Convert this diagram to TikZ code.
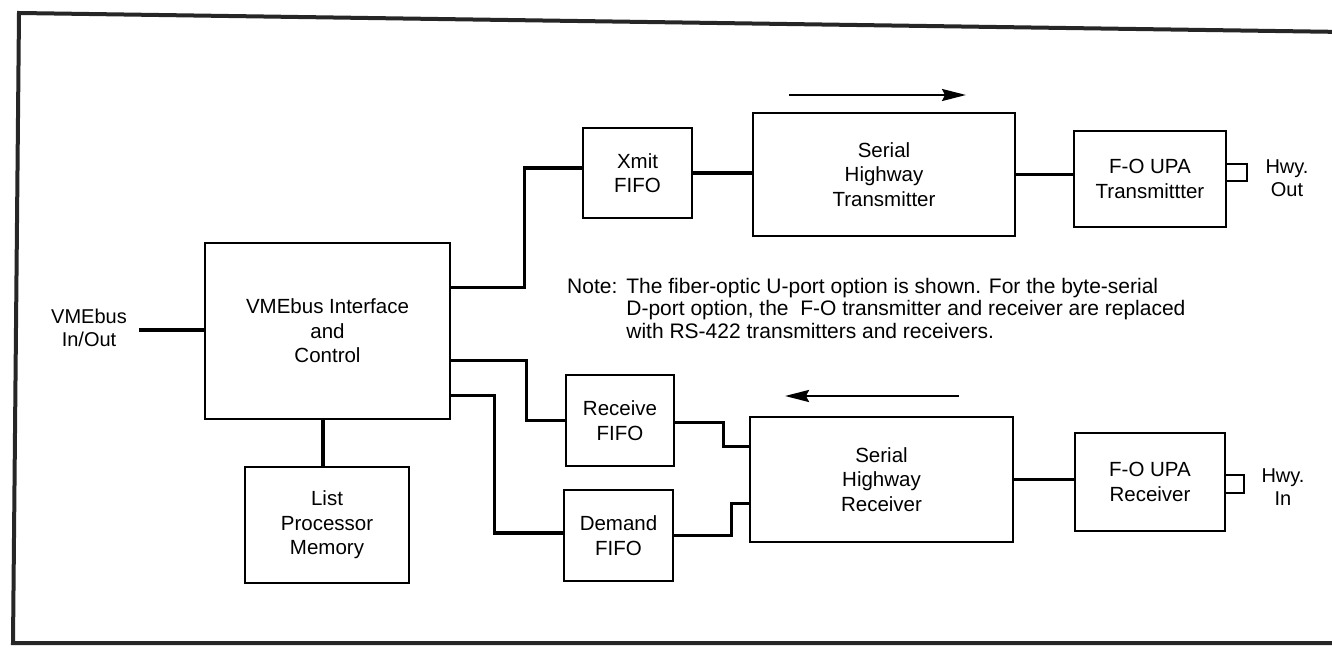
\documentclass[tikz,border=0pt]{standalone}
\usepackage{fontspec}
\setmainfont{Liberation Sans}
\usetikzlibrary{arrows.meta,calc}
\newcommand\bxfont{\fontsize{20.5}{24.5}\selectfont}
\newcommand\lbfont{\fontsize{20}{23}\selectfont}
\newcommand\ntfont{\fontsize{21}{22.5}\selectfont}
\begin{document}
\begin{tikzpicture}[x=1pt,y=-1pt,
  box/.style={draw,line width=2.8pt,inner sep=0pt,align=center,font=\bxfont},
  port/.style={draw,line width=2.6pt,inner sep=0pt},
  conn/.style={line width=3.6pt,line join=miter},
  flow/.style={line width=2.2pt,-{Stealth[length=24pt,width=12pt,inset=3pt]}},
  lbl/.style={align=center,font=\lbfont,inner sep=0pt},
  frame/.style={line width=4pt,black!85}]
\useasboundingbox (0,0) rectangle (1332,652);
% outer frame
\draw[frame] (1345,32) -- (19,13) -- (13,643) -- (1345,643);

% blocks
\node[box,minimum width=245pt,minimum height=176pt] (vme) at (327.5,331) {VMEbus Interface\\and\\Control};
\node[box,minimum width=164pt,minimum height=116pt] (list) at (327,525) {List\\Processor\\Memory};
\node[box,minimum width=109pt,minimum height=90pt] (xmit) at (637.5,173) {Xmit\\FIFO};
\node[box,minimum width=262pt,minimum height=123pt] (sht) at (884,174.5) {Serial\\Highway\\Transmitter};
\node[box,minimum width=152pt,minimum height=96pt] (fotx) at (1150,179) {F-O UPA\\Transmittter};
\node[box,minimum width=108pt,minimum height=91pt] (recv) at (620,420.5) {Receive\\FIFO};
\node[box,minimum width=109pt,minimum height=91pt] (dem) at (618.5,535.5) {Demand\\FIFO};
\node[box,minimum width=263pt,minimum height=125pt] (shr) at (881.5,479.5) {Serial\\Highway\\Receiver};
\node[box,minimum width=150pt,minimum height=98pt] (forx) at (1150,482) {F-O UPA\\Receiver};

% ports
\node[port,minimum width=21pt,minimum height=17pt] (txport) at (1236.5,172.5) {};
\node[port,minimum width=19pt,minimum height=18pt] (rxport) at (1234.5,484) {};

% labels
\node[lbl] (inout) at (89,327.5) {VMEbus\\In/Out};
\node[lbl] (hwyout) at (1287,178) {Hwy.\\Out};
\node[lbl] (hwyin) at (1283,487) {Hwy.\\In};

\node[anchor=base west,inner sep=0pt,font=\ntfont] (note) at (567,293)
  {\begin{tabular}[t]{@{}l@{\hspace{9pt}}l@{}}Note: & The fiber-optic U-port option is shown. For the byte-serial\\
   & D-port option, the\ \ F-O transmitter and receiver are replaced\\
   & with RS-422 transmitters and receivers.\end{tabular}};

% connectors
\draw[conn] ($(inout.east)+(12,2.5)$) -- ($(inout.east -| vme.west)+(0,2.5)$);
\draw[conn] ($(vme.north east)+(0,46)$) -- ++(73,0) |- ($(xmit.west)+(0,-5)$);
\draw[conn] (xmit.east) -- (xmit.east -| sht.west);
\draw[conn] (sht.east) -- (sht.east -| fotx.west);
\draw[conn] ($(vme.north east)+(0,119)$) -- ++(75,0) |- (recv.west);
\draw[conn] ($(recv.east)+(0,2)$) -- ++(48,0) |- ($(shr.north west)+(0,31)$);
\draw[conn] ($(vme.north east)+(0,154)$) -- ++(43,0) |- ($(dem.west)+(0,-2.5)$);
\draw[conn] (dem.east) -- ++(57,0) |- ($(shr.north west)+(0,88)$);
\draw[conn] ($(list.north)+(-4,0)$) -- ($(list.north |- vme.south)+(-4,0)$);
\draw[conn] (shr.east) -- (shr.east -| forx.west);

% direction arrows
\coordinate (txa) at (789,95);
\coordinate (txb) at (966,95);
\coordinate (rxa) at (959,396);
\coordinate (rxb) at (785,396);
\draw[flow] (txa) -- (txb);
\draw[flow] (rxa) -- (rxb);
\end{tikzpicture}
\end{document}
